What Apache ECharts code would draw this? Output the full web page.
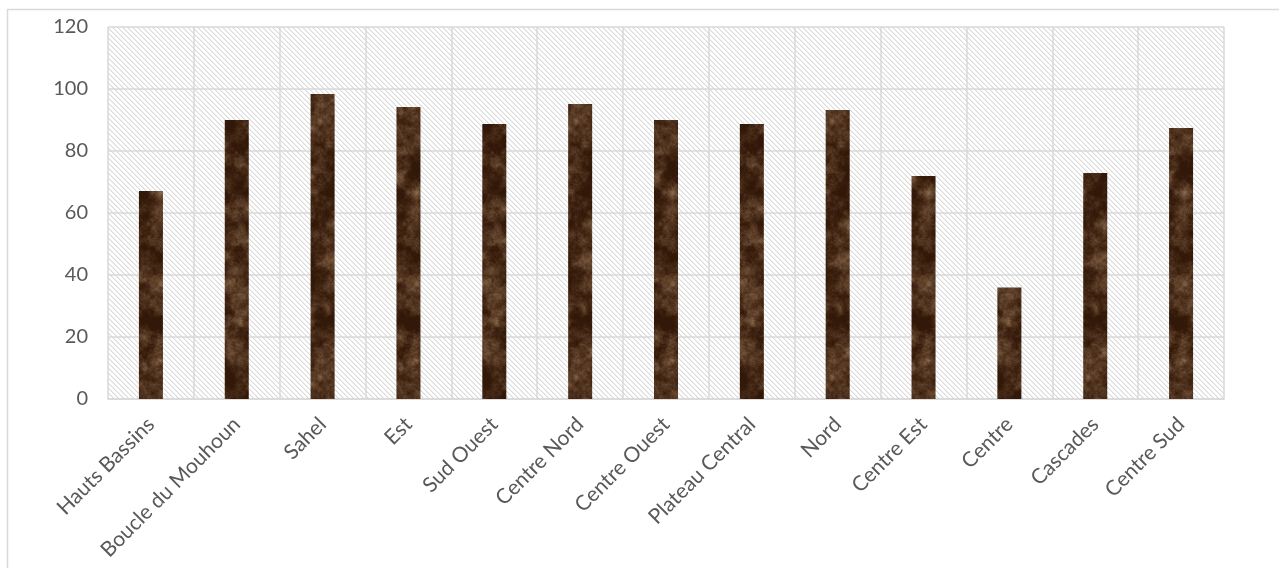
<!DOCTYPE html>
<html>
<head>
<meta charset="utf-8">
<script src="https://cdn.jsdelivr.net/npm/echarts@6/dist/echarts.min.js"></script>
<style>
  html, body { margin: 0; padding: 0; background: #ffffff; }
  #chart { width: 1279px; height: 568px; }
</style>
</head>
<body>
<div id="chart"></div>
<script>
// Regions and their values
const regions = ['Hauts Bassins', 'Boucle du Mouhoun', 'Sahel', 'Est', 'Sud Ouest', 'Centre Nord',
  'Centre Ouest', 'Plateau Central', 'Nord', 'Centre Est', 'Centre', 'Cascades', 'Centre Sud'];
const values = [67.1, 90.0, 98.4, 94.2, 88.7, 95.2, 90.0, 88.7, 93.2, 71.9, 36.0, 72.9, 87.4];
const yTicks = [0, 20, 40, 60, 80, 100, 120];

// Diagonal hatch tile for the plot background
function hatchTile() {
  const n = 5;
  const c = document.createElement('canvas');
  c.width = n; c.height = n;
  const ctx = c.getContext('2d');
  const img = ctx.createImageData(n, n);
  for (let y = 0; y < n; y++) {
    for (let x = 0; x < n; x++) {
      const d = ((x - y) % n + n) % n;
      let v = 255;
      if (d === 0) v = 218;
      else if (d === 1) v = 238;
      const i = (y * n + x) * 4;
      img.data[i] = v; img.data[i + 1] = v; img.data[i + 2] = v; img.data[i + 3] = 255;
    }
  }
  ctx.putImageData(img, 0, 0);
  return c;
}

// Periodic value noise used for the marble-like bar fill
function hash(x, y, seed) {
  let h = Math.imul(x, 374761393) ^ Math.imul(y, 668265263) ^ Math.imul(seed, 2246822519);
  h = Math.imul(h ^ (h >>> 13), 1274126177);
  return ((h ^ (h >>> 16)) >>> 0) / 4294967295;
}
function noise(x, y, px, py, seed) {
  const x0 = Math.floor(x), y0 = Math.floor(y);
  const fx = x - x0, fy = y - y0;
  const sx = fx * fx * (3 - 2 * fx), sy = fy * fy * (3 - 2 * fy);
  const m = (a, p) => ((a % p) + p) % p;
  const a = hash(m(x0, px), m(y0, py), seed), b = hash(m(x0 + 1, px), m(y0, py), seed);
  const c = hash(m(x0, px), m(y0 + 1, py), seed), d = hash(m(x0 + 1, px), m(y0 + 1, py), seed);
  return (a + (b - a) * sx) + ((c + (d - c) * sx) - (a + (b - a) * sx)) * sy;
}
function marbleTile() {
  const w = 128, h = 256;
  const c = document.createElement('canvas');
  c.width = w; c.height = h;
  const ctx = c.getContext('2d');
  const img = ctx.createImageData(w, h);
  const dark = [50, 24, 8], light = [150, 115, 84];
  for (let y = 0; y < h; y++) {
    for (let x = 0; x < w; x++) {
      let v = 0, amp = 0.5, tot = 0;
      for (let o = 0; o < 5; o++) {
        const cells = 8 << o;
        const f = cells / w;
        v += amp * noise(x * f, y * f, cells, cells * 2, o + 3);
        tot += amp; amp *= 0.7;
      }
      v /= tot;
      let t = Math.max(0, Math.min(1, (v - 0.3) * 1.6));
      t = Math.pow(t, 1.4);
      const i = (y * w + x) * 4;
      img.data[i] = dark[0] + (light[0] - dark[0]) * t;
      img.data[i + 1] = dark[1] + (light[1] - dark[1]) * t;
      img.data[i + 2] = dark[2] + (light[2] - dark[2]) * t;
      img.data[i + 3] = 255;
    }
  }
  ctx.putImageData(img, 0, 0);
  return c;
}

const chart = echarts.init(document.getElementById('chart'), null, { renderer: 'canvas' });
const font = 'Lato, "Open Sans", sans-serif';
const gridColor = '#d9d9d9';

chart.setOption({
  animation: false,
  backgroundColor: '#ffffff',
  graphic: [{
    type: 'rect',
    shape: { x: 7.5, y: 9.5, width: 1290, height: 600 },
    style: { fill: 'none', stroke: gridColor, lineWidth: 1.5 },
    silent: true, z: -10
  }],
  grid: {
    left: 108, right: 55, top: 27, bottom: 169,
    show: true,
    backgroundColor: { image: hatchTile(), repeat: 'repeat' },
    borderWidth: 0
  },
  xAxis: {
    type: 'category',
    data: regions,
    boundaryGap: true,
    axisLine: { show: true, lineStyle: { color: gridColor, width: 1.5 } },
    axisTick: { show: false },
    splitLine: { show: true, lineStyle: { color: gridColor, width: 1.5 } },
    axisLabel: {
      interval: 0, rotate: 45, margin: 22,
      color: '#595959', fontSize: 21, fontFamily: font
    }
  },
  yAxis: {
    type: 'value',
    min: yTicks[0], max: yTicks[yTicks.length - 1], interval: 20,
    axisLine: { show: false },
    axisTick: { show: false },
    splitLine: { show: true, lineStyle: { color: gridColor, width: 1.5 } },
    axisLabel: { margin: 20, color: '#595959', fontSize: 20, fontFamily: font }
  },
  series: [{
    type: 'bar',
    data: values,
    barWidth: 24,
    itemStyle: { color: { image: marbleTile(), repeat: 'repeat' } }
  }]
});
</script>
</body>
</html>
